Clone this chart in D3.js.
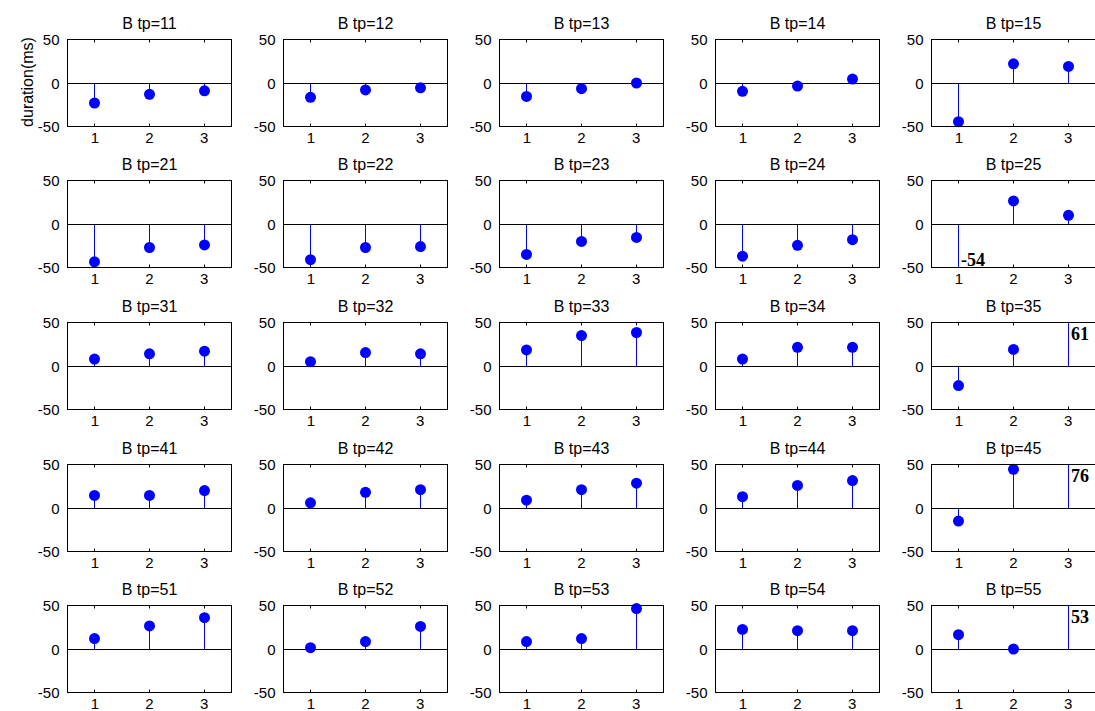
<!DOCTYPE html>
<html>
<head>
<meta charset="utf-8">
<script src="https://cdn.jsdelivr.net/npm/d3@7"></script>
<style>
  body { margin: 0; background: #fff; }
  svg { display: block; font-family: "Liberation Sans", Arial, sans-serif; }
</style>
</head>
<body>
<div id="chart"></div>
<script>
(function() {

    // tp codes, one per panel (row-major)
    var tpCodes = [11, 12, 13, 14, 15,
                   21, 22, 23, 24, 25,
                   31, 32, 33, 34, 35,
                   41, 42, 43, 44, 45,
                   51, 52, 53, 54, 55];
    var xTicks = [1, 2, 3];
    var yTicks = [-50, 0, 50];

    // durations (ms) at x = 1, 2, 3 for each panel
    var durRow1 = [[-23, -13, -9], [-16.5, -8, -5.5], [-15.5, -6.5, 0], [-9.5, -3.5, 4.5], [-44.5, 22, 19]];
    var durRow2 = [[-43.5, -27, -24], [-41, -27, -26], [-35, -20, -15.5], [-37, -24.5, -18], [-54, 26.5, 10]];
    var durRow3 = [[8, 14, 17], [5, 15.5, 14], [18.5, 35, 38.5], [8, 21.5, 21.5], [-22.5, 19, 61]];
    var durRow4 = [[14.5, 14.5, 20], [6, 18, 21], [9, 21, 28.5], [13, 26, 31.5], [-15, 44.5, 76]];
    var durRow5 = [[12, 26.5, 36], [1.5, 8.5, 26], [8.5, 12, 46.5], [22.5, 21, 21], [16.5, 0, 53]];
    var durations = [].concat(durRow1, durRow2, durRow3, durRow4, durRow5);

    var width = 1095;
    var height = 711;
    var nCols = 5;
    var left0 = 67, colStep = 216, w = 164;
    var top0 = 38.5, rowStep = 141.7, h = 87;

    var svg = d3.select("#chart").append("svg")
        .attr("width", width)
        .attr("height", height);

    var x = d3.scaleLinear().domain([0.5, 3.5]).range([0, w]);
    var y = d3.scaleLinear().domain([-50, 50]).range([h, 0]);

    svg.append("text")
        .attr("transform", "translate(27," + (top0 + h / 2) + ") rotate(-90)")
        .attr("text-anchor", "middle")
        .attr("dominant-baseline", "central")
        .attr("font-size", 16)
        .attr("fill", "#000")
        .text("duration(ms)");

    tpCodes.forEach(function(tp, i) {
        var col = i % nCols;
        var row = Math.floor(i / nCols);
        var px = Math.round(left0 + col * colStep) + 0.5;
        var py = Math.round(top0 + row * rowStep) + 0.5;
        var pts = durations[i].map(function(v, j) { return {x: xTicks[j], v: v}; });

        var g = svg.append("g")
            .attr("transform", "translate(" + px + "," + py + ")");

        g.append("text")
            .attr("x", w / 2)
            .attr("y", -11)
            .attr("text-anchor", "middle")
            .attr("font-size", 16)
            .attr("fill", "#000")
            .text("B tp=" + tp);

        // y tick labels
        g.selectAll(".ylab")
            .data(yTicks)
            .enter().append("text")
            .attr("x", -8)
            .attr("y", function(d) { return y(d); })
            .attr("text-anchor", "end")
            .attr("dominant-baseline", "central")
            .attr("font-size", 15)
            .attr("fill", "#000")
            .text(function(d) { return d; });

        // x tick labels
        g.selectAll(".xlab")
            .data(xTicks)
            .enter().append("text")
            .attr("x", function(d) { return x(d); })
            .attr("y", h + 16)
            .attr("text-anchor", "middle")
            .attr("font-size", 15)
            .attr("fill", "#000")
            .text(function(d) { return d; });

        // inward ticks top and bottom
        xTicks.forEach(function(t) {
            var tx = Math.round(x(t));
            g.append("line")
                .attr("x1", tx).attr("x2", tx)
                .attr("y1", 0).attr("y2", 3)
                .attr("stroke", "#000");
            g.append("line")
                .attr("x1", tx).attr("x2", tx)
                .attr("y1", h).attr("y2", h - 3)
                .attr("stroke", "#000");
        });

        // stems
        g.selectAll(".stem")
            .data(pts)
            .enter().append("line")
            .attr("x1", function(d) { return Math.round(x(d.x)); })
            .attr("x2", function(d) { return Math.round(x(d.x)); })
            .attr("y1", Math.round(y(0)))
            .attr("y2", function(d) { return y(Math.max(-50, Math.min(50, d.v))); })
            .attr("stroke", "#0000ff")
            .attr("stroke-width", 1);

        // baseline
        g.append("line")
            .attr("x1", 0).attr("x2", w)
            .attr("y1", Math.round(y(0))).attr("y2", Math.round(y(0)))
            .attr("stroke", "#000");

        // markers only when inside the axes
        g.selectAll(".dot")
            .data(pts.filter(function(d) { return d.v >= -50 && d.v <= 50; }))
            .enter().append("circle")
            .attr("cx", function(d) { return Math.round(x(d.x)); })
            .attr("cy", function(d) { return y(d.v); })
            .attr("r", 5.5)
            .attr("fill", "#0000ff");

        // clipped values get a text label
        pts.forEach(function(d) {
            if (d.v > 50 || d.v < -50) {
                g.append("text")
                    .attr("x", Math.round(x(d.x)) + 2.5)
                    .attr("y", d.v > 50 ? 17 : h - 2)
                    .style("font-family", "'Liberation Serif', 'Times New Roman', serif")
                    .style("font-weight", "bold")
                    .attr("font-size", 18)
                    .attr("fill", "#000")
                    .text(String(d.v));
            }
        });

        g.append("rect")
            .attr("width", w)
            .attr("height", h)
            .attr("fill", "none")
            .attr("stroke", "#000");
    });

})();
</script>
</body>
</html>
